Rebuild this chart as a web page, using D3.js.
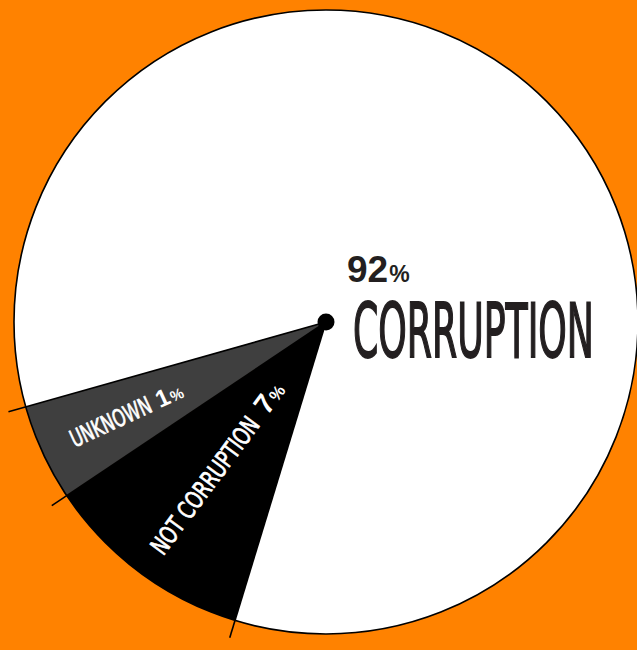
<!DOCTYPE html>
<html>
<head>
<meta charset="utf-8">
<script src="https://cdn.jsdelivr.net/npm/d3@7"></script>
<style>
  html, body { margin: 0; padding: 0; background: #ff8200; }
  svg { display: block; }
</style>
</head>
<body>
<div id="chart"></div>
<script>
// categories, the printed percentages, and the slice shares as drawn in the picture
var categories = ['CORRUPTION', 'NOT CORRUPTION', 'UNKNOWN'];
var labelValues = [92, 7, 1];
var sliceShares = [84.1, 10.9, 5.0];
var sliceColors = ['#ffffff', '#000000', '#3f3f3f'];

var w = 637,
    h = 650,
    cx = 326,
    cy = 322,
    radius = 312,
    tickOut = 18,
    startDeg = 254.2;

var svg = d3.select('#chart')
    .append('svg')
    .attr('width', w)
    .attr('height', h);

svg.append('rect')
    .attr('width', w)
    .attr('height', h)
    .attr('fill', '#ff8200');

var nodes = categories.map(function(c, i){
    return { name: c, label: labelValues[i], share: sliceShares[i], color: sliceColors[i] };
});

var start = startDeg * Math.PI / 180;
var pie = d3.pie()
    .sort(null)
    .value(function(d){ return d.share; })
    .startAngle(start)
    .endAngle(start + 2 * Math.PI);

var arcs = pie(nodes);
var arc = d3.arc().innerRadius(0).outerRadius(radius);

var g = svg.append('g').attr('transform', 'translate(' + cx + ',' + cy + ')');

g.selectAll('path.slice')
    .data(arcs)
    .enter()
    .append('path')
    .attr('class', 'slice')
    .attr('d', arc)
    .attr('fill', function(d){ return d.data.color; });

// outline
g.append('circle')
    .attr('r', radius)
    .attr('fill', 'none')
    .attr('stroke', '#000')
    .attr('stroke-width', 1.6);

// boundary lines poking out past the rim
g.selectAll('line.edge')
    .data(arcs)
    .enter()
    .append('line')
    .attr('class', 'edge')
    .attr('x1', 0)
    .attr('y1', 0)
    .attr('x2', function(d){ return (radius + tickOut) * Math.sin(d.startAngle); })
    .attr('y2', function(d){ return -(radius + tickOut) * Math.cos(d.startAngle); })
    .attr('stroke', '#000')
    .attr('stroke-width', 1.6);

g.append('circle')
    .attr('r', 8.5)
    .attr('fill', '#000');

var narrow = "'Liberation Sans Narrow', 'DejaVu Sans Condensed', 'Liberation Sans', sans-serif";
var bold = "'Liberation Sans', Arial, Helvetica, sans-serif";

// condensed word squeezed to a given length (stands in for a Bebas-like face)
var squeeze = function( sel, x, y, len ){
    var natural = sel.node().getComputedTextLength();
    sel.attr('transform', 'translate(' + x + ',' + y + ') scale(' + (len / natural) + ',1)');
};

// big label for the main slice
var main = g.append('g').attr('fill', '#231f20');
var pct = main.append('text')
    .attr('x', 21)
    .attr('y', -40)
    .attr('font-family', bold)
    .attr('font-weight', 'bold')
    .attr('font-size', 37);
pct.append('tspan').text(arcs[0].data.label);
pct.append('tspan').attr('font-size', 23).attr('dx', 1).text('%');

var big = main.append('text')
    .attr('font-family', narrow)
    .attr('font-size', 75)
    .attr('stroke', '#231f20')
    .attr('stroke-width', 1.8)
    .text(arcs[0].data.name);
squeeze(big, 27, 35, 241);

// rotated labels inside the small slices
var labelSpec = {
    'NOT CORRUPTION': { dist: 182, len: 164, size: 25, num: 28, pct: 17, gap: 11 },
    'UNKNOWN':        { dist: 220, len: 87,  size: 24, num: 24, pct: 15, gap: 7 }
};

arcs.slice(1).forEach(function(d){
    var s = labelSpec[d.data.name],
        mid = (d.startAngle + d.endAngle) / 2,
        px = s.dist * Math.sin(mid),
        py = -s.dist * Math.cos(mid),
        rot = Math.atan2(Math.cos(mid), -Math.sin(mid)) * 180 / Math.PI;

    var lg = g.append('g')
        .attr('transform', 'translate(' + px + ',' + py + ') rotate(' + rot + ')')
        .attr('fill', '#fff');

    var word = lg.append('text')
        .attr('font-family', narrow)
        .attr('font-size', s.size)
        .attr('stroke', '#fff')
        .attr('stroke-width', 0.7)
        .text(d.data.name);

    var num = lg.append('text')
        .attr('y', s.size * 0.36)
        .attr('font-family', bold)
        .attr('font-weight', 'bold')
        .attr('font-size', s.num);
    num.append('tspan').text(d.data.label);
    num.append('tspan').attr('font-size', s.pct).attr('dx', 1).text('%');

    var numW = num.node().getComputedTextLength() + 1,
        total = s.len + s.gap + numW;
    squeeze(word, -total / 2, s.size * 0.36, s.len);
    num.attr('x', -total / 2 + s.len + s.gap);
});
</script>
</body>
</html>
